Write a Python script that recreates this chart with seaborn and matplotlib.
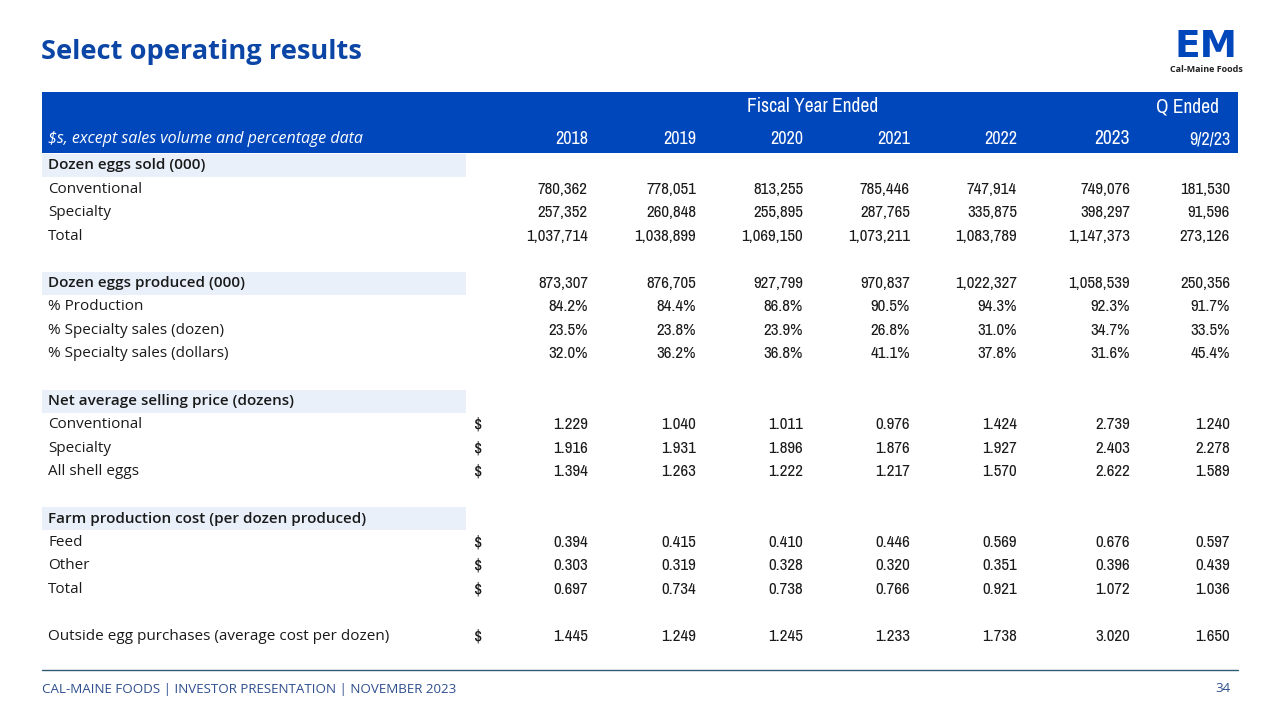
import matplotlib
matplotlib.use("Agg")
import matplotlib.pyplot as plt
from matplotlib.patches import Rectangle
from matplotlib import font_manager as fm
import seaborn as sns

# ---------------- data ----------------
columns = ["2018", "2019", "2020", "2021", "2022", "2023", "9/2/23"]

sold_conventional = [780362, 778051, 813255, 785446, 747914, 749076, 181530]
sold_specialty = [257352, 260848, 255895, 287765, 335875, 398297, 91596]
sold_total = [1037714, 1038899, 1069150, 1073211, 1083789, 1147373, 273126]
produced = [873307, 876705, 927799, 970837, 1022327, 1058539, 250356]
pct_production = [84.2, 84.4, 86.8, 90.5, 94.3, 92.3, 91.7]
pct_specialty_dozen = [23.5, 23.8, 23.9, 26.8, 31.0, 34.7, 33.5]
pct_specialty_dollars = [32.0, 36.2, 36.8, 41.1, 37.8, 31.6, 45.4]
price_conventional = [1.229, 1.040, 1.011, 0.976, 1.424, 2.739, 1.240]
price_specialty = [1.916, 1.931, 1.896, 1.876, 1.927, 2.403, 2.278]
price_all_shell = [1.394, 1.263, 1.222, 1.217, 1.570, 2.622, 1.589]
cost_feed = [0.394, 0.415, 0.410, 0.446, 0.569, 0.676, 0.597]
cost_other = [0.303, 0.319, 0.328, 0.320, 0.351, 0.396, 0.439]
cost_total = [0.697, 0.734, 0.738, 0.766, 0.921, 1.072, 1.036]
outside_purchases = [1.445, 1.249, 1.245, 1.233, 1.738, 3.020, 1.650]

rows = [
    ("Dozen eggs sold (000)", "section", None),
    ("Conventional", "int", sold_conventional),
    ("Specialty", "int", sold_specialty),
    ("Total", "int", sold_total),
    ("", "blank", None),
    ("Dozen eggs produced (000)", "section_int", produced),
    ("% Production", "pct", pct_production),
    ("% Specialty sales (dozen)", "pct", pct_specialty_dozen),
    ("% Specialty sales (dollars)", "pct", pct_specialty_dollars),
    ("", "blank", None),
    ("Net average selling price (dozens)", "section", None),
    ("Conventional", "usd", price_conventional),
    ("Specialty", "usd", price_specialty),
    ("All shell eggs", "usd", price_all_shell),
    ("", "blank", None),
    ("Farm production cost (per dozen produced)", "section", None),
    ("Feed", "usd", cost_feed),
    ("Other", "usd", cost_other),
    ("Total", "usd", cost_total),
    ("", "blank", None),
    ("Outside egg purchases (average cost per dozen)", "usd", outside_purchases),
]

# ---------------- style ----------------
sns.set_theme(style="white")
plt.rcParams["font.family"] = ["Open Sans", "DejaVu Sans"]

# choose a narrow font for the numbers if one is installed
num_family = None
for f in fm.fontManager.ttflist:
    if "Narrow" in f.name or "Condensed" in f.name:
        num_family = f.name
        break
if num_family is None:
    NUM_FONT = ["Roboto", "DejaVu Sans"]
    NUM_SIZE = 10.5
else:
    NUM_FONT = [num_family, "DejaVu Sans"]
    NUM_SIZE = 12.2

BLUE = "#0047BB"
TITLE_BLUE = "#0B45A5"
LIGHT = "#E9F0FA"
TEXT = "#1A1A1A"
FOOT = "#2F4F8F"

fig = plt.figure(figsize=(12.8, 7.2), dpi=100)
ax = fig.add_axes([0, 0, 1, 1])
ax.set_xlim(0, 1280)
ax.set_ylim(720, 0)
ax.axis("off")

# title
ax.text(41, 52, "Select operating results", fontsize=19.6, fontweight="bold",
        color=TITLE_BLUE, va="center", ha="left")

# logo
ax.text(1206, 47, "EM", fontsize=27, fontweight="heavy", color=BLUE,
        va="center", ha="center", family=["DejaVu Sans"])
ax.text(1206, 69, "Cal-Maine Foods", fontsize=6.5, fontweight="bold",
        color="#222222", va="center", ha="center")

# header band
ax.add_patch(Rectangle((42, 92), 1196, 61, color=BLUE, lw=0))
ax.text(813, 107, "Fiscal Year Ended", fontsize=14, color="white",
        ha="center", va="center", family=NUM_FONT, fontweight="semibold")
ax.text(1219, 107, "Q Ended", fontsize=14, color="white",
        ha="right", va="center", family=NUM_FONT, fontweight="semibold")
ax.text(48, 139, "$s, except sales volume and percentage data", fontsize=11.5,
        style="italic", color="white", ha="left", va="center")

col_right = [588, 696, 803, 910, 1017, 1130, 1230]
for i, c in enumerate(columns):
    ax.text(col_right[i], 139, c, fontsize=NUM_SIZE + 0.8 if c != "2023" else NUM_SIZE + 1.8,
            color="white", ha="right", va="center", family=NUM_FONT,
            fontweight="bold" if c == "2023" else "normal")

# body
y0 = 165.5
step = 23.55


def fmt(kind, v):
    if kind in ("int", "section_int"):
        return f"{v:,}"
    if kind == "pct":
        return f"{v:.1f}%"
    return f"{v:.3f}"


for r, (label, kind, vals) in enumerate(rows):
    y = y0 + r * step
    if kind.startswith("section"):
        ax.add_patch(Rectangle((42, y - 11.5), 424, 23, color=LIGHT, lw=0))
        ax.text(48, y, label, fontsize=11, fontweight="semibold", color=TEXT,
                ha="left", va="center")
    elif kind != "blank":
        ax.text(48, y, label, fontsize=11, color=TEXT, ha="left", va="center")
    if vals is not None:
        if kind == "usd":
            ax.text(474, y, "$", fontsize=NUM_SIZE + 1, color=TEXT, ha="left",
                    va="center", family=NUM_FONT)
        for i, v in enumerate(vals):
            ax.text(col_right[i], y, fmt(kind, v), fontsize=NUM_SIZE, color=TEXT,
                    ha="right", va="center", family=NUM_FONT)

# footer
ax.plot([42, 1238], [670, 670], color="#2E5A73", lw=1)
ax.text(42, 689, "CAL-MAINE FOODS | INVESTOR PRESENTATION | NOVEMBER 2023",
        fontsize=9.6, color=FOOT, ha="left", va="center")
ax.text(1230, 689, "34", fontsize=9.6, color=FOOT, ha="right", va="center")

fig.savefig("out.png", dpi=100)
